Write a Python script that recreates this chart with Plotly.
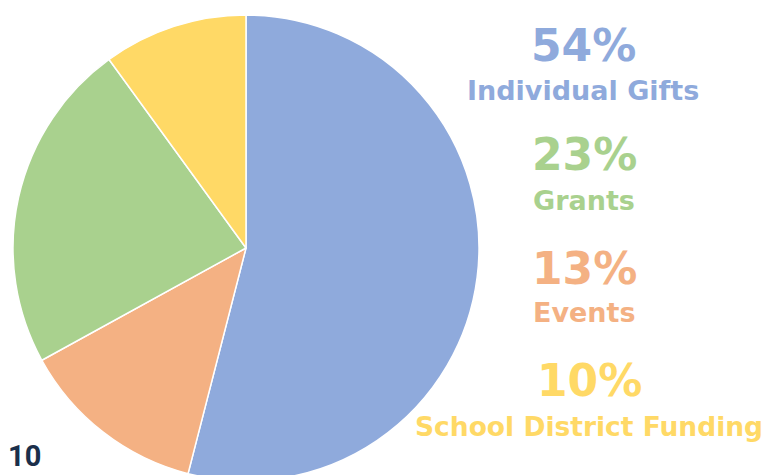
import plotly.graph_objects as go

categories = ["Individual Gifts", "Events", "Grants", "School District Funding"]
values = [54, 13, 23, 10]
colors = ["#8FAADC", "#F4B183", "#A9D18E", "#FFD966"]
page_number = "10"

W, H = 767, 482

def px(x):
    return x / W

def py(y):
    return 1 - y / H

fig = go.Figure(go.Pie(
    labels=categories,
    values=values,
    sort=False,
    direction="clockwise",
    rotation=0,
    marker=dict(colors=colors, line=dict(color="#FFFFFF", width=1.5)),
    textinfo="none",
    hoverinfo="label+percent",
    showlegend=False,
    domain=dict(x=[px(13), px(479)], y=[py(481), py(15)]),
))

pct_y = [45, 268, 155, 380]
lab_y = [90, 312, 200, 426]
cx = [583, 584, 584, 589]
lab_size = [27, 27, 27, 26.5]
for cat, v, c, yp, yl, x, ls in zip(categories, values, colors, pct_y, lab_y, cx, lab_size):
    fig.add_annotation(x=px(x), y=py(yp), xref="paper", yref="paper",
                       text=f"<b>{v}%</b>", showarrow=False,
                       font=dict(family="DejaVu Sans, sans-serif", size=44, color=c),
                       xanchor="center", yanchor="middle")
    fig.add_annotation(x=px(x), y=py(yl), xref="paper", yref="paper",
                       text=f"<b>{cat}</b>", showarrow=False,
                       font=dict(family="DejaVu Sans, sans-serif", size=ls, color=c),
                       xanchor="center", yanchor="middle")

fig.add_annotation(x=px(6), y=py(437), xref="paper", yref="paper",
                   text=f"<b>{page_number}</b>", showarrow=False,
                   font=dict(family="Liberation Sans Narrow, Roboto, sans-serif", size=29, color="#1B2F4B"),
                   xanchor="left", yanchor="top")

fig.update_layout(width=W, height=H, margin=dict(l=0, r=0, t=0, b=0),
                  paper_bgcolor="white", plot_bgcolor="white")

fig.write_html("out.html", config={"displayModeBar": False},
               post_script="document.body.style.margin='0';document.body.style.overflow='hidden';")
